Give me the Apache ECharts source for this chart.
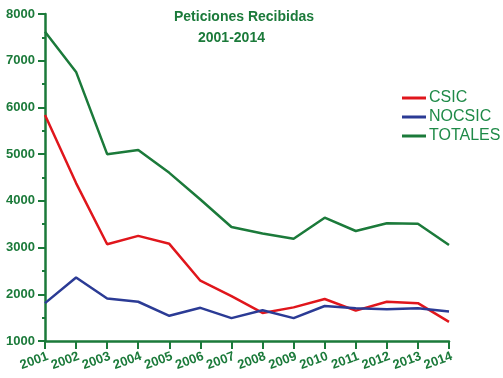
<!DOCTYPE html>
<html><head><meta charset="utf-8">
<script src="https://cdn.jsdelivr.net/npm/echarts@6/dist/echarts.min.js"></script>
<style>html,body{margin:0;padding:0;background:#fff}#c{width:503px;height:378px}</style>
</head><body><div id="c"></div>
<script>
const years = ['2001','2002','2003','2004','2005','2006','2007','2008','2009','2010','2011','2012','2013','2014'];
const csic = [5840,4380,3070,3250,3080,2290,1960,1600,1720,1900,1650,1840,1810,1410];
const nocsic = [1810,2360,1910,1840,1540,1710,1490,1660,1490,1750,1700,1680,1700,1630];
const totales = [7620,6760,5000,5090,4600,4030,3440,3300,3190,3640,3355,3520,3510,3055];
const yTicks = [1000,8000,1000];
const G = '#1b7a3a';
const F = 'Arial, Liberation Sans';
const chart = echarts.init(document.getElementById('c'));
chart.setOption({
  animation:false,
  backgroundColor:'#fff',
  title:[
    {text:'Peticiones Recibidas',left:174,top:10,padding:0,textStyle:{color:G,fontFamily:F,fontWeight:'bold',fontSize:14}},
    {text:'2001-2014',left:198,top:31,padding:0,textStyle:{color:G,fontFamily:F,fontWeight:'bold',fontSize:14}}
  ],
  legend:{orient:'vertical',left:397,top:85,itemWidth:24,itemHeight:3,itemGap:3,icon:'rect',
    textStyle:{color:'#1f8a48',fontFamily:F,fontSize:16,padding:[0,0,0,-2]},
    data:['CSIC','NOCSIC','TOTALES']},
  grid:{left:45,right:54,top:14,bottom:37},
  xAxis:{type:'category',data:years,boundaryGap:false,
    axisLine:{lineStyle:{color:G,width:2.5}},
    axisTick:{show:true,alignWithLabel:true,length:8,lineStyle:{color:G,width:2}},
    axisLabel:{rotate:20,color:G,fontWeight:'bold',fontSize:13,fontFamily:F,margin:16,interval:0,padding:[0,-3,0,0]},
    splitLine:{show:false}},
  yAxis:{type:'value',min:yTicks[0],max:yTicks[1],interval:yTicks[2],
    axisLine:{show:true,lineStyle:{color:G,width:2.5}},
    axisTick:{show:true,length:7,lineStyle:{color:G,width:2}},
    minorTick:{show:true,splitNumber:2,length:3,lineStyle:{color:G,width:2}},
    axisLabel:{color:G,fontWeight:'bold',fontSize:13,fontFamily:F,margin:10,formatter:v=>String(v)},
    splitLine:{show:false}},
  series:[
    {name:'CSIC',type:'line',data:csic,symbol:'none',lineStyle:{color:'#e0161c',width:2.5},itemStyle:{color:'#e0161c'}},
    {name:'NOCSIC',type:'line',data:nocsic,symbol:'none',lineStyle:{color:'#2b3b95',width:2.5},itemStyle:{color:'#2b3b95'}},
    {name:'TOTALES',type:'line',data:totales,symbol:'none',lineStyle:{color:'#1b7a3a',width:2.5},itemStyle:{color:'#1b7a3a'}}
  ]
});
</script></body></html>
